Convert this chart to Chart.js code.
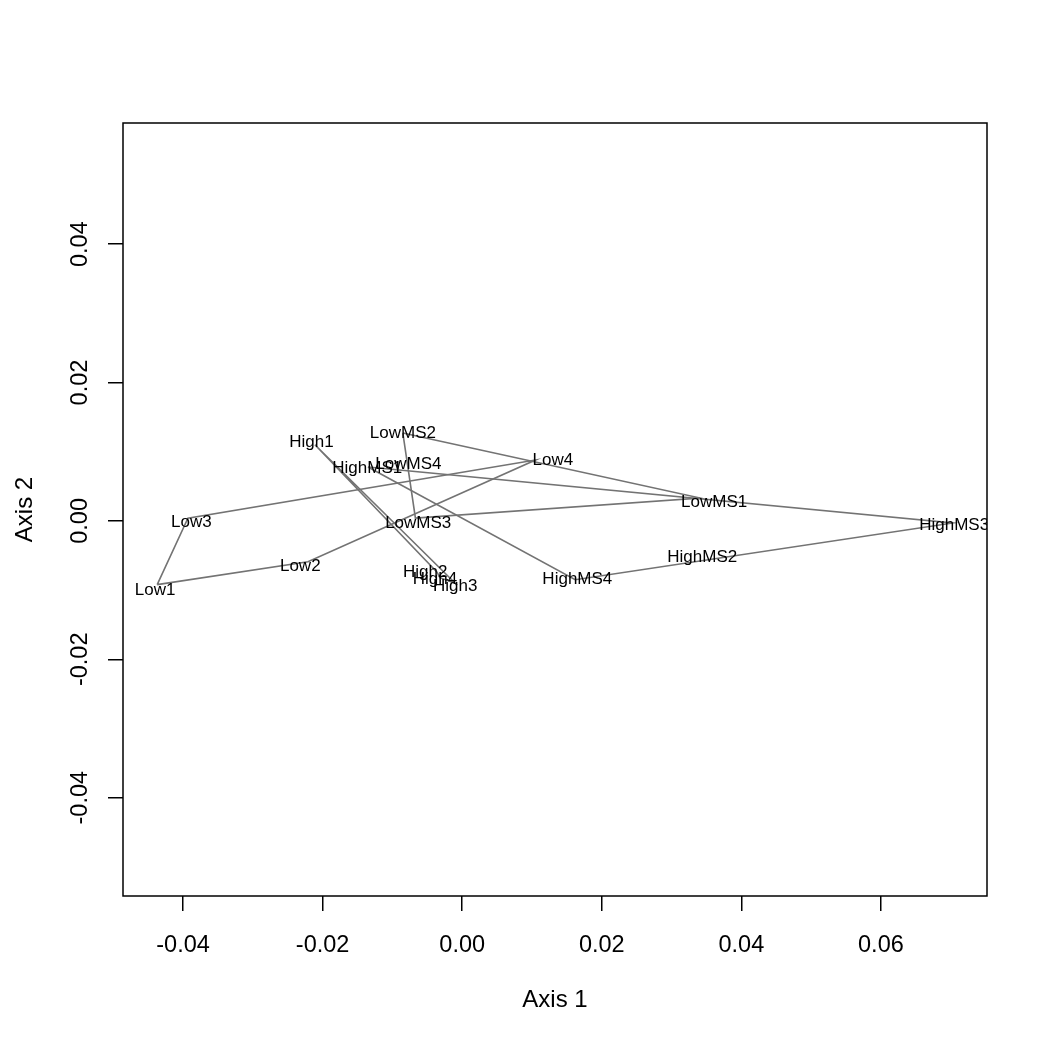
<!DOCTYPE html>
<html>
<head>
<meta charset="utf-8">
<title>Ordination hulls</title>
<script src="https://cdn.jsdelivr.net/npm/chart.js@4"></script>
<style>
  body { margin: 0; background: #fff; }
  #wrap { width: 1050px; height: 1050px; }
</style>
</head>
<body>
<div id="wrap"><canvas id="chart" width="1050" height="1050"></canvas></div>
<script>
// site scores
const siteNames = ['Low1', 'Low2', 'Low3', 'Low4', 'High1', 'High2', 'High3', 'High4',
  'LowMS1', 'LowMS2', 'LowMS3', 'LowMS4', 'HighMS1', 'HighMS2', 'HighMS3', 'HighMS4'];
const axis1 = [-0.0437, -0.0221, -0.0393, 0.0105, -0.0211, -0.0036, -0.0010, -0.0032,
  0.0341, -0.0085, -0.0067, -0.0077, -0.0135, 0.0344, 0.0703, 0.0162];
const axis2 = [-0.0092, -0.0059, 0.0004, 0.0088, 0.0110, -0.0074, -0.0090, -0.0082,
  0.0033, 0.0127, 0.0004, 0.0084, 0.0078, -0.0053, -0.0003, -0.0085];

// where the text labels sit (same units as the scores)
const labelAxis1 = [-0.0440, -0.0232, -0.0388, 0.0130, -0.0216, -0.0053, -0.0010, -0.0039,
  0.0361, -0.0085, -0.0063, -0.0077, -0.0136, 0.0344, 0.0705, 0.0165];
const labelAxis2 = [-0.0098, -0.0062, 0.0001, 0.0090, 0.0116, -0.0072, -0.0091, -0.0082,
  0.0030, 0.0129, 0.0000, 0.0085, 0.0079, -0.0050, -0.0003, -0.0082];

// hull outlines per group
const hullLow = ['Low1', 'Low3', 'Low4', 'Low2'];
const hullHigh = ['High1', 'High2', 'High4', 'High3'];
const hullLowMS = ['LowMS2', 'LowMS1', 'LowMS3'];
const hullHighMS = ['HighMS1', 'HighMS3', 'HighMS4'];

const xTicks = [-0.04, -0.02, 0.00, 0.02, 0.04, 0.06];
const yTicks = [-0.04, -0.02, 0.00, 0.02, 0.04];

const FONT = '"Liberation Sans", Arial, Helvetica, sans-serif';
const lineGrey = 'rgb(115,115,115)';

function hullData(names) {
  const pts = names.map(n => {
    const i = siteNames.indexOf(n);
    return { x: axis1[i], y: axis2[i] };
  });
  pts.push(pts[0]); // close polygon
  return pts;
}

const hulls = [hullLow, hullHigh, hullLowMS, hullHighMS];
const datasets = hulls.map(h => ({
  data: hullData(h),
  showLine: true,
  borderColor: lineGrey,
  borderWidth: 1.6,
  pointRadius: 0,
  fill: false,
  tension: 0
}));

// box around the plot region + site labels
const rPlot = {
  id: 'rPlot',
  afterDatasetsDraw(chart) {
    const ctx = chart.ctx;
    const a = chart.chartArea;
    const xs = chart.scales.x, ys = chart.scales.y;
    ctx.save();
    ctx.beginPath();
    ctx.rect(a.left, a.top, a.right - a.left, a.bottom - a.top);
    ctx.clip();
    ctx.fillStyle = '#000';
    ctx.font = '17px ' + FONT;
    ctx.textAlign = 'center';
    ctx.textBaseline = 'middle';
    siteNames.forEach((n, i) => {
      ctx.fillText(n, xs.getPixelForValue(labelAxis1[i]), ys.getPixelForValue(labelAxis2[i]) + 2);
    });
    ctx.restore();

    ctx.save();
    ctx.strokeStyle = '#000';
    ctx.lineWidth = 1.5;
    ctx.strokeRect(a.left, a.top, a.right - a.left, a.bottom - a.top);
    ctx.restore();
  }
};

new Chart(document.getElementById('chart'), {
  type: 'scatter',
  data: { datasets },
  options: {
    responsive: false,
    animation: false,
    layout: { padding: { top: 123, right: 63, left: 0, bottom: 0 } },
    plugins: { legend: { display: false }, tooltip: { enabled: false } },
    scales: {
      x: {
        type: 'linear',
        min: -0.0486,
        max: 0.0752,
        afterBuildTicks: s => { s.ticks = xTicks.map(v => ({ value: v })); },
        afterFit: s => { s.height = 154; },
        grid: { drawOnChartArea: false, drawTicks: true, tickLength: 15, color: '#000', lineWidth: 1.5 },
        border: { display: false },
        ticks: {
          color: '#000',
          font: { family: FONT, size: 23.5 },
          padding: 20,
          maxRotation: 0,
          callback: v => v.toFixed(2)
        },
        title: {
          display: true,
          text: 'Axis 1',
          color: '#000',
          font: { family: FONT, size: 24 },
          padding: { top: 0, bottom: 35 }
        }
      },
      y: {
        type: 'linear',
        min: -0.0542,
        max: 0.0575,
        afterBuildTicks: s => { s.ticks = yTicks.map(v => ({ value: v })); },
        afterFit: s => { s.width = 123; },
        grid: { drawOnChartArea: false, drawTicks: true, tickLength: 15, color: '#000', lineWidth: 1.5 },
        border: { display: false },
        ticks: {
          color: '#000',
          font: { family: FONT, size: 23.5 },
          padding: 1,
          minRotation: 90,
          maxRotation: 90,
          crossAlign: 'center',
          callback: v => v.toFixed(2)
        },
        title: {
          display: true,
          text: 'Axis 2',
          color: '#000',
          font: { family: FONT, size: 24 },
          padding: { top: 11, bottom: 0 }
        }
      }
    }
  },
  plugins: [rPlot]
});
</script>
</body>
</html>
